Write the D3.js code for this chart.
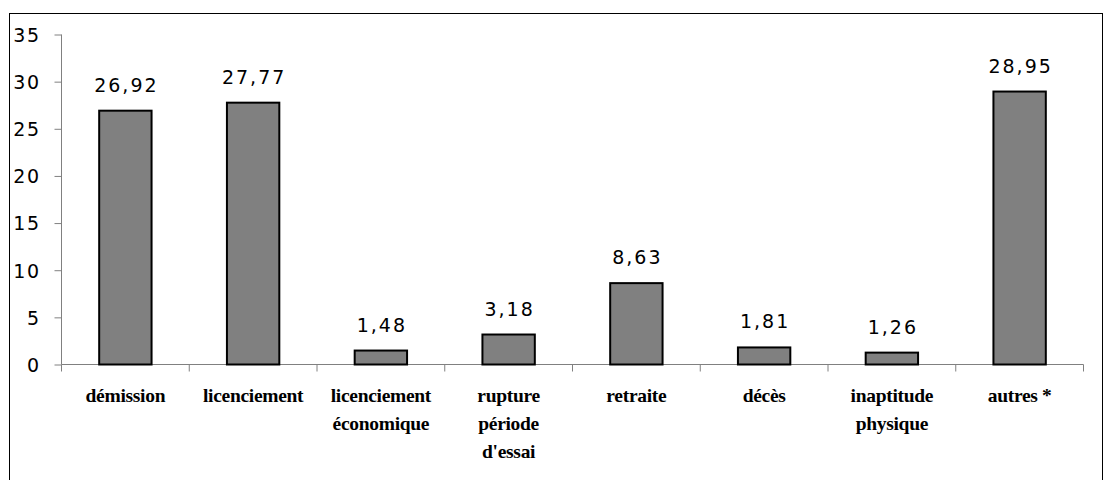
<!DOCTYPE html>
<html>
<head>
<meta charset="utf-8">
<script src="https://cdn.jsdelivr.net/npm/d3@7"></script>
<style>
  html, body { margin: 0; padding: 0; background: #fff; }
  svg { display: block; }
</style>
</head>
<body>
<script>
// Motifs de sortie (en %)
const categories = [
  ["démission"],
  ["licenciement"],
  ["licenciement", "économique"],
  ["rupture", "période", "d'essai"],
  ["retraite"],
  ["décès"],
  ["inaptitude", "physique"],
  ["autres *"]
];
const values = [26.92, 27.77, 1.48, 3.18, 8.63, 1.81, 1.26, 28.95];
const yTicks = [0, 5, 10, 15, 20, 25, 30, 35];

const W = 1104, H = 480;
const svg = d3.select("body").append("svg").attr("width", W).attr("height", H);

// cadre
svg.append("rect")
  .attr("x", 9.5).attr("y", 13.5)
  .attr("width", 1093).attr("height", 500)
  .attr("fill", "none").attr("stroke", "#000").attr("stroke-width", 1);

const x0 = 61.5, x1 = 1083.5;
const y0 = 364.5, y35 = 34.5;

const x = d3.scaleBand().domain(d3.range(values.length)).range([x0, x1]).paddingInner(0).paddingOuter(0);
const y = d3.scaleLinear().domain([0, 35]).range([y0, y35]);

const sansFont = "'DejaVu Sans', Verdana, sans-serif";
const serifFont = "'Liberation Serif', 'Times New Roman', serif";

// axe vertical
const yAxis = d3.axisLeft(y).tickValues(yTicks).tickSize(7).tickPadding(14).tickFormat(d3.format("d"));
const gy = svg.append("g").attr("transform", `translate(${x0},0)`).call(yAxis);
gy.select(".domain").attr("stroke", "#808080").attr("d", `M0,${y35}V${y0}`);
gy.selectAll(".tick line").attr("stroke", "#808080");
gy.selectAll(".tick text")
  .attr("font-family", sansFont).attr("font-size", 19).attr("fill", "#000")
  .attr("letter-spacing", "1.5px").attr("dy", "0.36em");

// axe horizontal : graduations aux limites des catégories
const boundaries = d3.range(values.length + 1).map(i => x0 + i * x.bandwidth());
svg.append("line")
  .attr("x1", x0).attr("x2", x1).attr("y1", y0).attr("y2", y0)
  .attr("stroke", "#808080");
svg.selectAll("line.xtick").data(boundaries).join("line")
  .attr("class", "xtick")
  .attr("x1", d => d).attr("x2", d => d)
  .attr("y1", y0).attr("y2", y0 + 7)
  .attr("stroke", "#808080");

// barres
const bw = x.bandwidth() * 0.41;
svg.selectAll("rect.bar").data(values).join("rect")
  .attr("class", "bar")
  .attr("x", (d, i) => x(i) + (x.bandwidth() - bw) / 2)
  .attr("y", d => y(d))
  .attr("width", bw)
  .attr("height", d => y(0) - y(d))
  .attr("fill", "#808080")
  .attr("stroke", "#000")
  .attr("stroke-width", 2);

// étiquettes de valeur
const fr = d3.formatLocale({ decimal: ",", thousands: " ", grouping: [3], currency: ["", " €"] });
const fmt = fr.format(".2f");
svg.selectAll("text.val").data(values).join("text")
  .attr("class", "val")
  .attr("x", (d, i) => x(i) + x.bandwidth() / 2 + 1)
  .attr("y", d => y(d) - 19)
  .attr("text-anchor", "middle")
  .attr("font-family", sansFont).attr("font-size", 19)
  .attr("letter-spacing", "2px")
  .attr("fill", "#000")
  .text(d => fmt(d));

// libellés des catégories
const lab = svg.selectAll("text.cat").data(categories).join("text")
  .attr("class", "cat")
  .attr("text-anchor", "middle")
  .attr("font-family", serifFont).attr("font-size", 19.5).attr("font-weight", "bold")
  .attr("letter-spacing", "-0.3px")
  .attr("fill", "#000");
lab.each(function(lines, i) {
  d3.select(this).selectAll("tspan").data(lines).join("tspan")
    .attr("x", x(i) + x.bandwidth() / 2)
    .attr("y", (d, j) => 402 + j * 28)
    .text(d => d);
});
</script>
</body>
</html>
